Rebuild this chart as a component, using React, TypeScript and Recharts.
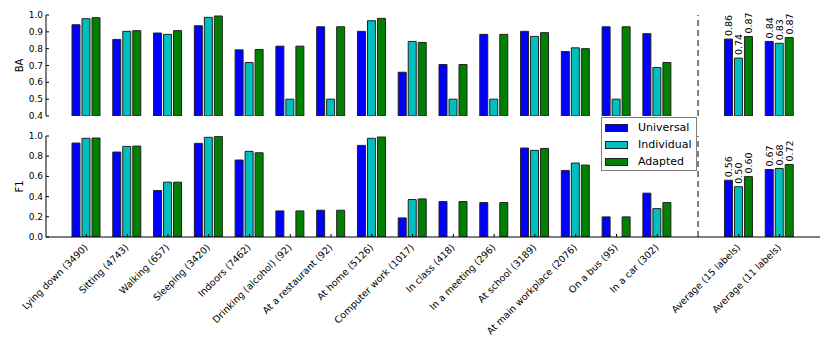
import { BarChart, Bar, XAxis, YAxis, ReferenceLine, LabelList, Legend, Label } from 'recharts';

const categories = [
  'Lying down (3490)', 'Sitting (4743)', 'Walking (657)', 'Sleeping (3420)', 'Indoors (7462)',
  'Drinking (alcohol) (92)', 'At a restaurant (92)', 'At home (5126)', 'Computer work (1017)',
  'In class (418)', 'In a meeting (296)', 'At school (3189)', 'At main workplace (2076)',
  'On a bus (95)', 'In a car (302)', ' ', 'Average (15 labels)', 'Average (11 labels)',
];

const baUniversal = [0.942, 0.855, 0.893, 0.936, 0.793, 0.815, 0.930, 0.903, 0.660, 0.706, 0.885, 0.903, 0.783, 0.930, 0.889, null, 0.857, 0.843];
const baIndividual = [0.978, 0.903, 0.885, 0.986, 0.718, 0.500, 0.500, 0.966, 0.843, 0.500, 0.500, 0.873, 0.805, 0.500, 0.688, null, 0.744, 0.832];
const baAdapted = [0.984, 0.907, 0.907, 0.994, 0.795, 0.815, 0.930, 0.980, 0.837, 0.706, 0.885, 0.895, 0.800, 0.930, 0.718, null, 0.872, 0.866];

const f1Universal = [0.930, 0.841, 0.460, 0.927, 0.762, 0.258, 0.265, 0.907, 0.189, 0.351, 0.341, 0.881, 0.659, 0.199, 0.434, null, 0.562, 0.668];
const f1Individual = [0.977, 0.897, 0.543, 0.987, 0.848, 0, 0, 0.977, 0.371, 0, 0, 0.858, 0.732, 0, 0.281, null, 0.498, 0.678];
const f1Adapted = [0.980, 0.900, 0.543, 0.997, 0.834, 0.258, 0.265, 0.990, 0.377, 0.351, 0.341, 0.877, 0.712, 0.199, 0.341, null, 0.598, 0.718];

const baTicks = [0.4, 0.5, 0.6, 0.7, 0.8, 0.9, 1.0];
const f1Ticks = [0.0, 0.2, 0.4, 0.6, 0.8, 1.0];

const GAP = ' ';
const FIRST_AVG = 16;
const FONT = 'DejaVu Sans';
const EDGE = '#222';

const series = [
  { key: 'universal', name: 'Universal', color: '#0000ff' },
  { key: 'individual', name: 'Individual', color: '#00bfbf' },
  { key: 'adapted', name: 'Adapted', color: '#008000' },
];

// value labels only on the two average groups
const lbl = (v: number | null, i: number) => (i >= FIRST_AVG && v != null ? v.toFixed(2) : undefined);

const buildRows = (u: (number | null)[], ind: (number | null)[], ad: (number | null)[]) =>
  categories.map((name, i) => ({
    name,
    universal: u[i],
    individual: ind[i],
    adapted: ad[i],
    universalLabel: lbl(u[i], i),
    individualLabel: lbl(ind[i], i),
    adaptedLabel: lbl(ad[i], i),
  }));

const baData = buildRows(baUniversal, baIndividual, baAdapted);
const f1Data = buildRows(f1Universal, f1Individual, f1Adapted);

// inward tick marks, matplotlib style
const BottomTick = (props: any) => {
  const { x, y, payload, showLabel } = props;
  if (!payload || payload.value === GAP) return null;
  const ax = x + 2;
  const ay = y + 11;
  return (
    <g>
      <line x1={x} y1={y} x2={x} y2={y - 3} stroke="#000" />
      {showLabel && (
        <text x={ax} y={ay} textAnchor="end" fontSize={9.5} fontFamily={FONT} fill="#000"
          transform={`rotate(-45, ${ax}, ${ay})`}>
          {payload.value}
        </text>
      )}
    </g>
  );
};

const TopTick = (props: any) => {
  const { x, y, payload } = props;
  if (!payload || payload.value === GAP) return null;
  return <line x1={x} y1={y} x2={x} y2={y + 3} stroke="#000" />;
};

const LeftTick = (props: any) => {
  const { x, y, payload } = props;
  return (
    <g>
      <line x1={x} y1={y} x2={x + 3} y2={y} stroke="#000" />
      <text x={x - 3} y={y} textAnchor="end" dominantBaseline="central" fontSize={9} fontFamily={FONT} fill="#000">
        {Number(payload.value).toFixed(1)}
      </text>
    </g>
  );
};

const RightTick = (props: any) => {
  const { x, y } = props;
  return <line x1={x} y1={y} x2={x - 3} y2={y} stroke="#000" />;
};

const avgLabel = (props: any) => {
  const { x, y, width, value } = props;
  if (value == null || value === '') return null;
  const cx = x + width / 2;
  const ty = y - 3;
  return (
    <text x={cx} y={ty} transform={`rotate(-90, ${cx}, ${ty})`} textAnchor="start" dominantBaseline="central"
      fontSize={9.5} fontFamily={FONT} fill="#000">
      {value}
    </text>
  );
};

const renderLegend = () => (
  <div style={{ width: 96, height: 54, boxSizing: 'border-box', border: '1px solid #808080', background: '#fff', paddingTop: 1 }}>
    {series.map((s) => (
      <div key={s.key} style={{ display: 'flex', alignItems: 'center', height: 17, paddingLeft: 3 }}>
        <span style={{ width: 23, height: 8, boxSizing: 'border-box', background: s.color, border: `1px solid ${EDGE}` }} />
        <span style={{ marginLeft: 10, fontSize: 11, fontFamily: FONT, color: '#000' }}>{s.name}</span>
      </div>
    ))}
  </div>
);

const axisLabel = (text: string) => (props: any) => {
  const vb = props.viewBox;
  const lx = vb.x + 19;
  const ly = vb.y + vb.height / 2;
  return (
    <text x={lx} y={ly} transform={`rotate(-90, ${lx}, ${ly})`} textAnchor="middle" dominantBaseline="central"
      fontSize={10} fontFamily={FONT} fill="#000">
      {text}
    </text>
  );
};

function Panel({ data, ticks, domain, yLabel, showLabels, height, xHeight, bottom, legend }: any) {
  return (
    <BarChart width={830} height={height} data={data} margin={{ top: 15, right: 10, bottom, left: 0 }}
      barSize={8} barGap={2}>
      <XAxis dataKey="name" interval={0} tickSize={0} tickMargin={0} height={xHeight} padding={{ left: 20, right: 20 }}
        axisLine={{ stroke: '#000' }} tickLine={false} tick={<BottomTick showLabel={showLabels} />} />
      <XAxis xAxisId="top" orientation="top" dataKey="name" interval={0} tickSize={0} tickMargin={0} height={0}
        padding={{ left: 20, right: 20 }} axisLine={{ stroke: '#000' }} tickLine={false} tick={<TopTick />} />
      <YAxis domain={domain} ticks={ticks} width={46} interval={0} tickSize={0} tickMargin={0}
        axisLine={{ stroke: '#000' }} tickLine={false} tick={<LeftTick />} allowDataOverflow>
        <Label content={axisLabel(yLabel)} />
      </YAxis>
      <YAxis yAxisId="right" orientation="right" domain={domain} ticks={ticks} width={0} interval={0} tickSize={0}
        tickMargin={0} axisLine={{ stroke: '#000' }} tickLine={false} tick={<RightTick />} allowDataOverflow />
      {series.map((s) => (
        <Bar key={s.key} dataKey={s.key} name={s.name} fill={s.color} stroke={EDGE} strokeWidth={1}
          isAnimationActive={false}>
          <LabelList dataKey={`${s.key}Label`} content={avgLabel} />
        </Bar>
      ))}
      <ReferenceLine x={GAP} stroke="#000" strokeWidth={1} strokeDasharray="6 4" />
      {legend && (
        <Legend layout="vertical" align="center" verticalAlign="middle" content={renderLegend}
          wrapperStyle={{ position: 'absolute', left: 601, top: -4, width: 96, height: 54 }} />
      )}
    </BarChart>
  );
}

export default function App() {
  return (
    <div style={{ position: 'absolute', left: 0, top: 0, width: 830, height: 346, background: '#fff', fontFamily: FONT }}>
      <div style={{ position: 'absolute', left: 0, top: 0 }}>
        <Panel data={baData} ticks={baTicks} domain={[0.4, 1.0]} yLabel="BA" showLabels={false}
          height={130} xHeight={0} bottom={14} legend={false} />
      </div>
      <div style={{ position: 'absolute', left: 0, top: 121 }}>
        <Panel data={f1Data} ticks={f1Ticks} domain={[0, 1.0]} yLabel="F1" showLabels
          height={225} xHeight={109} bottom={0} legend />
      </div>
    </div>
  );
}
